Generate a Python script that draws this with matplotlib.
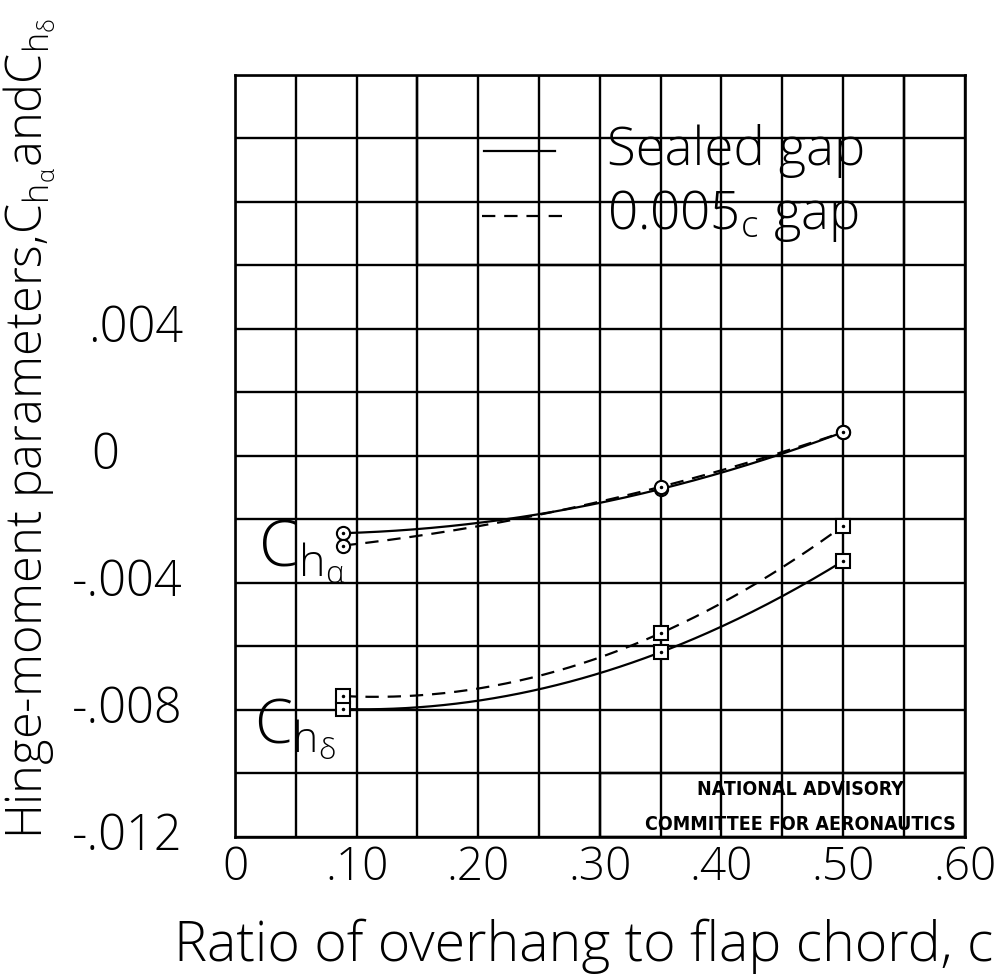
import numpy as np
import matplotlib.pyplot as plt
from matplotlib.patches import Rectangle
from matplotlib.transforms import blended_transform_factory

# overhang ratio of the three flaps tested
overhang = [0.089, 0.35, 0.50]

# hinge-moment parameters, sealed gap and 0.005c gap
ch_alpha_sealed = [-0.00244, -0.00105, 0.00074]
ch_alpha_gap = [-0.00283, -0.00098, 0.00074]
ch_delta_sealed = [-0.00798, -0.00619, -0.00332]
ch_delta_gap = [-0.00757, -0.00559, -0.00221]

x_ticks = [0, 0.10, 0.20, 0.30, 0.40, 0.50, 0.60]
x_tick_labels = ["0", ".10", ".20", ".30", ".40", ".50", ".60"]
y_ticks = [-0.012, -0.008, -0.004, 0, 0.004]
y_tick_labels = ["-.012", "-.008", "-.004", "0", ".004"]

FONT = ["Open Sans", "DejaVu Sans"]
STAMP_FONT = ["DejaVu Sans Condensed", "Liberation Sans Narrow", "DejaVu Sans"]
plt.rcParams['font.family'] = FONT
plt.rcParams['mathtext.fontset'] = 'custom'
plt.rcParams['mathtext.rm'] = 'Open Sans:light'
plt.rcParams['mathtext.it'] = 'Open Sans:light'
plt.rcParams['mathtext.sf'] = 'Open Sans:light'
plt.rcParams['mathtext.bf'] = 'Open Sans:bold'


def faired(xs, ys, n=200):
    # smooth fairing curve through the test points
    c = np.polyfit(xs, ys, 2)
    xx = np.linspace(xs[0], xs[-1], n)
    return xx, np.polyval(c, xx)


def main():
    W, H = 999, 980
    left, right, top, bottom = 235, 964.6, 74.7, 836.7
    fig = plt.figure(figsize=(W/100, H/100), dpi=100)
    ax = fig.add_axes([left/W, 1 - bottom/H, (right - left)/W, (bottom - top)/H])
    ax.set_xlim(0, 0.60)
    ax.set_ylim(-0.012, 0.012)

    ax.set_xticks(x_ticks)
    ax.set_xticklabels(x_tick_labels)
    ax.set_xticks(np.arange(0, 0.601, 0.05), minor=True)
    ax.set_yticks(y_ticks)
    ax.set_yticklabels([])
    ax.set_yticks(np.arange(-0.012, 0.0121, 0.002), minor=True)
    ax.tick_params(which='both', length=0)
    ax.tick_params(axis='x', pad=6, labelsize=33)
    for lab in ax.get_xticklabels():
        lab.set_fontweight('light')

    # y labels drawn by hand so the lone zero can sit under the other digits
    tr = blended_transform_factory(ax.transAxes, ax.transData)
    for v, s in zip(y_ticks, y_tick_labels):
        if s == "0":
            ax.text((105 - left)/(right - left), v, s, transform=tr, fontsize=35,
                    fontweight='light', ha='center', va='center')
        else:
            ax.text((183 - left)/(right - left), v, s, transform=tr, fontsize=35,
                    fontweight='light', ha='right', va='center')

    ax.grid(True, which='both', color='black', lw=1.7, zorder=0)
    for s in ax.spines.values():
        s.set_linewidth(1.9)
        s.set_zorder(5)

    # legend panel and the stamp sit on blank patches of the grid
    ax.add_patch(Rectangle((0.15, 0.006), 0.40, 0.006, facecolor='white',
                           edgecolor='black', lw=1.7, zorder=1))
    ax.add_patch(Rectangle((0.30, -0.012), 0.30, 0.002, facecolor='white',
                           edgecolor='black', lw=1.7, zorder=1))
    # blank spots behind the curve names
    ax.add_patch(Rectangle((0.018, -0.0039), 0.068, 0.00176, facecolor='white',
                           edgecolor='none', zorder=1))
    ax.add_patch(Rectangle((0.014, -0.0095), 0.070, 0.0026, facecolor='white',
                           edgecolor='none', zorder=1))

    # curves
    dash = (0, (6, 4))
    for ys, style, mk in [(ch_alpha_sealed, '-', 'o'), (ch_alpha_gap, dash, 'o'),
                          (ch_delta_sealed, '-', 's'), (ch_delta_gap, dash, 's')]:
        xx, yy = faired(overhang, ys)
        ax.plot(xx, yy, color='black', lw=1.6, linestyle=style, zorder=3)
        ax.plot(overhang, ys, linestyle='none', marker=mk, ms=9.5, mfc='white',
                mec='black', mew=1.5, zorder=4)
        ax.plot(overhang, ys, linestyle='none', marker='.', ms=3, color='black', zorder=4)

    # legend
    ax.plot([0.205, 0.263], [0.0096, 0.0096], color='black', lw=1.6, zorder=3)
    ax.plot([0.203, 0.271], [0.00755, 0.00755], color='black', lw=1.6, linestyle=dash, zorder=3)
    ax.text(0.306, 0.0096, "Sealed gap", fontsize=38, fontweight='light',
            va='center', ha='left', zorder=3)
    ax.text(0.306, 0.00755, "0.005$_{\\mathrm{c}}$ gap", fontsize=38, fontweight='light',
            va='center', ha='left', zorder=3)

    # curve labels
    ax.text(0.019, -0.0030, "$\\mathrm{C}_{\\mathrm{h}_{\\alpha}}$", fontsize=46,
            va='center', ha='left', zorder=2)
    ax.text(0.016, -0.0086, "$\\mathrm{C}_{\\mathrm{h}_{\\delta}}$", fontsize=44,
            va='center', ha='left', zorder=2)

    ax.text(0.465, -0.0105, "NATIONAL ADVISORY", fontsize=14, fontweight='bold',
            family=STAMP_FONT, fontstretch='condensed', ha='center', va='center', zorder=3)
    ax.text(0.465, -0.0116, "COMMITTEE FOR AERONAUTICS", fontsize=14, fontweight='bold',
            family=STAMP_FONT, fontstretch='condensed', ha='center', va='center', zorder=3)

    xl = fig.text(140/W, 1 - 946/H, "Ratio of overhang to flap chord, c", fontsize=40,
                  fontweight='light', ha='left', va='center')
    # run the axis title out to the right edge of the sheet
    r = fig.canvas.get_renderer()
    ext = xl.get_window_extent(r)
    x0 = max(130, W - 6 - ext.width)
    xl.set_x(x0 / W)
    if x0 + ext.width > W - 4:
        xl.set_fontsize(40 * (W - 4 - x0) / ext.width)

    fig.text(30/W, 1 - 428/H,
             "Hinge-moment parameters,$\\mathrm{C}_{\\mathrm{h}_{\\alpha}}$and$\\mathrm{C}_{\\mathrm{h}_{\\delta}}$",
             fontsize=35, fontweight='light', rotation=90, ha='center', va='center')

    fig.savefig('out.png', dpi=100)
    plt.close(fig)


if __name__ == '__main__':
    main()
